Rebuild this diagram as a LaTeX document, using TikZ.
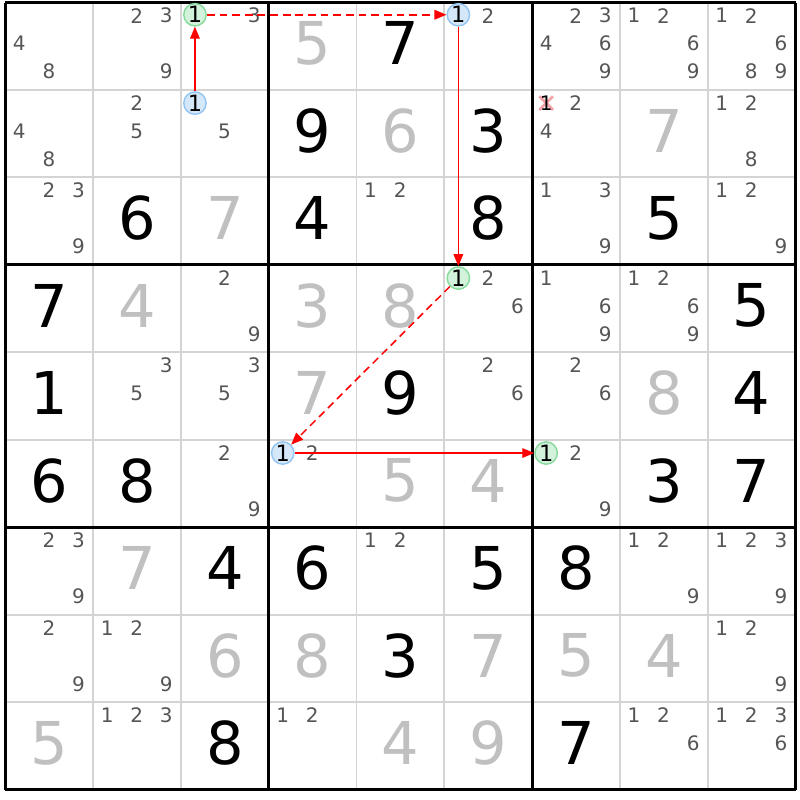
\documentclass[tikz,border=0pt]{standalone}
\usepackage{fontspec}
\setmainfont{DejaVu Sans}
\usepackage{tikz}
\usetikzlibrary{arrows.meta}

\definecolor{solvedgray}{HTML}{C0C0C0}
\definecolor{candgray}{HTML}{555555}
\definecolor{gridgray}{HTML}{D4D4D4}
\definecolor{onfill}{HTML}{D3F2DC}
\definecolor{ondraw}{HTML}{86DA9C}
\definecolor{offfill}{HTML}{D5E8FA}
\definecolor{offdraw}{HTML}{92C4F2}
\definecolor{crosspink}{HTML}{F4A3A8}

\tikzset{
  given/.style={font=\fontsize{42}{42}\selectfont, inner sep=0pt},
  solved/.style={given, text=solvedgray},
  cand/.style={font=\fontsize{14.2}{15}\selectfont, text=candgray, inner sep=0pt},
  linkcand/.style={circle, line width=1pt, minimum size=0.56cm, inner sep=0pt,
    font=\fontsize{16}{16}\selectfont, text=black},
  oncand/.style={linkcand, draw=ondraw, fill=onfill},
  offcand/.style={linkcand, draw=offdraw, fill=offfill},
  strong/.style={red, line width=0.9pt, -{Triangle[length=3mm,width=2.4mm]}},
  weak/.style={strong, line width=1.1pt, dash pattern=on 5.5pt off 3.5pt},
}

\begin{document}
\begin{tikzpicture}[x=2.195cm, y=-2.187cm]
    \useasboundingbox (-0.1325cm,0.0625cm) rectangle (19.8675cm,-19.9375cm);
    % grid
    \foreach \i in {1,2,4,5,7,8} {
      \draw[gridgray, line width=1.4pt] (\i,0) -- (\i,9);
      \draw[gridgray, line width=1.4pt] (0,\i) -- (9,\i);
    }
    \foreach \i in {0,3,6,9} {
      \draw[line width=2.2pt] (\i,0) -- (\i,9);
      \draw[line width=2.2pt] (0,\i) -- (9,\i);
    }
    % given digits
    \foreach \c/\r/\d in {4/0/7, 3/1/9, 5/1/3, 1/2/6, 3/2/4, 5/2/8, 7/2/5,
        0/3/7, 8/3/5, 0/4/1, 4/4/9, 8/4/4, 0/5/6, 1/5/8, 7/5/3, 8/5/7,
        2/6/4, 3/6/6, 5/6/5, 6/6/8, 4/7/3, 2/8/8, 6/8/7}
      \node[given] (g\c\r) at (\c+0.5,\r+0.466) {\d};
    % solved digits
    \foreach \c/\r/\d in {3/0/5, 4/1/6, 7/1/7, 2/2/7, 1/3/4, 3/3/3, 4/3/8,
        3/4/7, 7/4/8, 4/5/5, 5/5/4, 1/6/7, 2/7/6, 3/7/8, 5/7/7, 6/7/5,
        7/7/4, 0/8/5, 4/8/4, 5/8/9}
      \node[solved] (s\c\r) at (\c+0.5,\r+0.466) {\d};
    % candidates
    \foreach \c/\r/\l in {0/0/{4,8}, 1/0/{2,3,9}, 2/0/{3}, 5/0/{2},
        6/0/{2,3,4,6,9}, 7/0/{1,2,6,9}, 8/0/{1,2,6,8,9},
        0/1/{4,8}, 1/1/{2,5}, 2/1/{5}, 6/1/{2,4}, 8/1/{1,2,8},
        0/2/{2,3,9}, 4/2/{1,2}, 6/2/{1,3,9}, 8/2/{1,2,9},
        2/3/{2,9}, 5/3/{2,6}, 6/3/{1,6,9}, 7/3/{1,2,6,9},
        1/4/{3,5}, 2/4/{3,5}, 5/4/{2,6}, 6/4/{2,6},
        2/5/{2,9}, 3/5/{2}, 6/5/{2,9},
        0/6/{2,3,9}, 4/6/{1,2}, 7/6/{1,2,9}, 8/6/{1,2,3,9},
        0/7/{2,9}, 1/7/{1,2,9}, 8/7/{1,2,9},
        1/8/{1,2,3}, 3/8/{1,2}, 7/8/{1,2,6}, 8/8/{1,2,3,6}}
      \foreach \d in \l {
        \pgfmathtruncatemacro\kk{mod(\d-1,3)}
        \pgfmathtruncatemacro\jj{div(\d-1,3)}
        \node[cand] (k\c\r\d) at ({\c+0.16+0.337*\kk},{\r+0.15+0.32*\jj}) {\d};
      }
    % eliminated candidate
    \coordinate (xc) at (6.16,1.15);
    \draw[crosspink, line width=2pt] ([shift={(-0.17cm,-0.17cm)}]xc) -- ([shift={(0.17cm,0.17cm)}]xc);
    \draw[crosspink, line width=2pt] ([shift={(-0.17cm,0.17cm)}]xc) -- ([shift={(0.17cm,-0.17cm)}]xc);
    \node[cand, text=black] (x1) at (xc) {1};
    % chain
    \node[offcand] (off1) at (2.16,1.15) {1};
    \node[oncand] (on1) at (2.16,0.14) {1};
    \node[offcand] (off2) at (5.16,0.14) {1};
    \node[oncand] (on2) at (5.16,3.15) {1};
    \node[offcand] (off3) at (3.16,5.15) {1};
    \node[oncand] (on3) at (6.16,5.15) {1};
    \draw[strong] (off1) -- (on1);
    \draw[weak] (on1) -- (off2);
    \draw[strong] (off2) -- (on2);
    \draw[weak] (on2) -- (off3);
    \draw[strong] (off3) -- (on3);
\end{tikzpicture}
\end{document}
